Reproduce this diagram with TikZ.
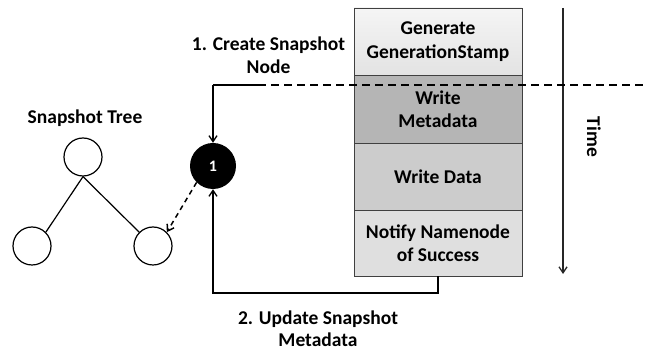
\documentclass[tikz,border=0pt]{standalone}
\usepackage{fontspec}
\setmainfont{Carlito}
\usetikzlibrary{arrows.meta,calc}
\begin{document}
\begin{tikzpicture}[x=1pt,y=-1pt,
  lbl/.style={font=\bfseries\fontsize{19.5}{22.5}\selectfont, align=center, inner sep=0pt},
  stage/.style={draw=black!75, line width=0.8pt, minimum width=168pt, inner sep=0pt,
    align=center, font=\bfseries\fontsize{19.5}{23.5}\selectfont},
  treenode/.style={circle, draw, line width=1.2pt, fill=white, minimum size=38pt, inner sep=0pt},
  flow/.style={line width=1.3pt, -{Straight Barb[length=6pt,width=8pt]}},
  arr/.style={-{Straight Barb[length=6pt,width=8pt]}}
]
\useasboundingbox (0,0) rectangle (654,352);

% timeline of stages
\node[stage, minimum height=67pt, top color=gray!8, bottom color=gray!22] (gen) at (438,41.5) {Generate\\GenerationStamp};
\node[stage, minimum height=68pt, fill=gray!58] (meta) at (438,109) {Write\\Metadata};
\node[stage, minimum height=67pt, fill=gray!40] (data) at (438,176.5) {Write Data};
\node[stage, minimum height=66pt, fill=gray!25] (notify) at (438,243) {Notify Namenode\\of Success};

% time axis
\coordinate (t0) at (563,8);
\coordinate (t1) at (563,274);
\draw[line width=1.3pt, arr, draw=black!85] (t0) -- (t1);
\node[lbl, rotate=-90] (time) at (594,137) {Time};

% snapshot node marker
\node[circle, fill=black, minimum width=44pt, minimum height=46pt, inner sep=0pt,
  text=white, font=\bfseries\fontsize{16}{18}\selectfont] (one) at (213,166) {1};

% create snapshot node: solid leg, then dashed boundary line
\coordinate (corner) at (213,85);
\coordinate (dashstart) at (258,85);
\coordinate (dashend) at (645,85);
\draw[line width=1.3pt] (dashstart) -- (corner);
\draw[flow] (corner) -- (one.north);
\draw[line width=1.3pt, dash pattern=on 8pt off 5pt] (dashstart) -- (dashend);

% update snapshot metadata
\coordinate (b1) at (438,293);
\coordinate (b2) at (213,293);
\draw[flow] (notify.south) -- (b1) -- (b2) -- (one.south);

% snapshot tree
\node[lbl] (treelabel) at (85,118) {Snapshot Tree};
\node[treenode] (root) at (83,157) {};
\node[treenode] (left) at (32,246) {};
\node[treenode] (right) at (153,246) {};
\draw[line width=1.2pt] (root.south) -- (left.north east);
\draw[line width=1.2pt] (root.south) -- (right.north west);
\draw[line width=1.5pt, dash pattern=on 5pt off 4pt, arr] (one.south west) -- (right.north east);

% step labels
\node[lbl] (step1) at (268.5,55) {1. Create Snapshot\\Node};
\node[lbl] (step2) at (318,328.5) {2. Update Snapshot\\Metadata};
\end{tikzpicture}
\end{document}
